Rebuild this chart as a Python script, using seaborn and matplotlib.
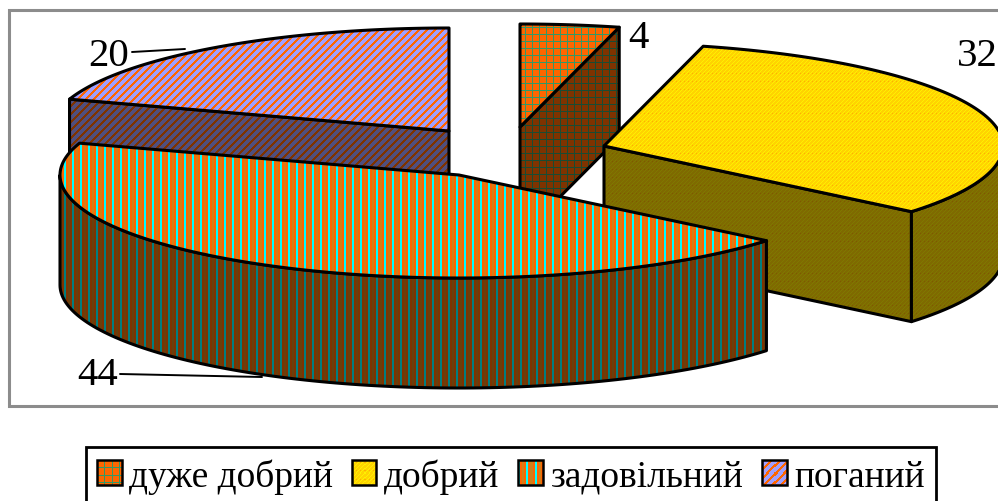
import numpy as np
import matplotlib
matplotlib.use('Agg')
import matplotlib.pyplot as plt
import seaborn as sns
from matplotlib.image import BboxImage
from matplotlib.legend_handler import HandlerBase
from matplotlib.patches import Patch, Polygon, Rectangle
from matplotlib.transforms import Bbox, TransformedBbox

# Data
categories = ['дуже добрий', 'добрий', 'задовільний', 'поганий']
values = [4, 32, 44, 20]

sns.set_style('white')
plt.rcParams['font.family'] = ['Liberation Serif', 'DejaVu Serif']
plt.rcParams['text.color'] = 'black'

# Pie geometry, in pixels
RX, RY, DEPTH = 399, 103, 110
apexes = [(520, 128), (604, 147), (459, 176), (449, 132)]
label_pos = [(638, 38), (977, 57), (98, 376), (109, 57)]
leaders = [None, None, ((120, 375), (262, 378)), ((132, 53), (185, 50))]
W, H = 998, 502

ORANGE, TEAL, CYAN, OLIVE = [np.array(c) for c in
                             sns.color_palette(['#FF6600', '#339966', '#00FFFF', '#D0801A'])]
YELLOW, LEMON, GOLD, LILAC = [np.array(c) for c in
                              sns.color_palette(['#FFD400', '#FFF000', '#FFB000', '#9F9FFF'])]


def texture(i, h=H, w=W):
    rows, cols = np.mgrid[0:h, 0:w]
    img = np.zeros((h, w, 3))
    if i == 0:  # grid
        img[:] = ORANGE
        img[(rows % 7 == 0) | (cols % 7 == 0)] = TEAL
    elif i == 1:  # dither
        img[:] = YELLOW
        img[(rows + cols) % 4 == 0] = LEMON
        img[(rows % 8 == 2) & (cols % 4 == 0)] = GOLD
    elif i == 2:  # vertical stripes
        img[:] = ORANGE
        img[cols % 8 < 2] = CYAN
        img[(cols % 8 >= 4) & (cols % 8 < 6)] = OLIVE
    else:  # diagonal stripes
        img[:] = LILAC
        img[(rows + cols) % 8 < 3] = ORANGE
    return img


def ell(a, apex, drop=0):
    a = np.radians(a)
    return np.column_stack([apex[0] + RX * np.sin(a), apex[1] - RY * np.cos(a) + drop])


fig = plt.figure(figsize=(W / 100, H / 100), dpi=100)
ax = fig.add_axes([0, 0, 1, 1])
ax.set_axis_off()
order = [3, 0, 1, 2]
z = [2]


def fill(points, tex):
    patch = Polygon(points, closed=True, fc='none', ec='black', lw=2.2, joinstyle='round', zorder=z[0] + 1)
    ax.add_patch(patch)
    im = ax.imshow(tex, extent=(0, W, H, 0), interpolation='nearest', aspect='auto', zorder=z[0])
    im.set_clip_path(patch)
    z[0] += 2


ax.add_patch(Rectangle((9.5, 11), W, 396, fc='white', ec='#8C8C8C', lw=2.2, zorder=1))

# Leader lines go under the slices
for lead in leaders:
    if lead:
        ax.plot([lead[0][0], lead[1][0]], [lead[0][1], lead[1][1]], color='black', lw=1.4, zorder=1.5)

# Start angles from the values, clockwise from the top
stops = np.cumsum([0] + values) / sum(values) * 360
for i in order:
    a0, a1 = stops[i], stops[i + 1]
    apex = apexes[i]
    tex = texture(i)
    dark = tex * 0.5
    # flat cut faces that look towards the viewer
    for a, seen in ((a0, np.sin(np.radians(a0)) < -1e-6), (a1, np.sin(np.radians(a1)) > 1e-6)):
        if seen:
            rim = ell(a, apex)[0]
            fill([apex, rim, rim + [0, DEPTH], (apex[0], apex[1] + DEPTH)], dark)
    # outer wall, front half of the ellipse only
    lo, hi = max(a0, 90), min(a1, 270)
    if lo < hi:
        arc = np.linspace(lo, hi, 120)
        fill(np.vstack([ell(arc, apex), ell(arc[::-1], apex, DEPTH)]), dark)
    arc = np.linspace(a0, a1, 200)
    fill(np.vstack([[apex], ell(arc, apex)]), tex)

for pos, v in zip(label_pos, values):
    ax.text(pos[0], pos[1], str(v), fontsize=29.5, ha='center', va='center', color='black', zorder=100)

ax.set_xlim(0, W)
ax.set_ylim(H, 0)


class SwatchHandler(HandlerBase):
    def __init__(self, idx):
        super().__init__()
        self.idx = idx

    def create_artists(self, legend, orig_handle, xdescent, ydescent, width, height, fontsize, trans):
        box = TransformedBbox(Bbox.from_bounds(-xdescent, -ydescent, width, height), trans)
        img = BboxImage(box, interpolation='nearest', zorder=1)
        img.set_data(texture(self.idx, 24, 24))
        frame = Rectangle((-xdescent, -ydescent), width, height, fc='none', ec='black', lw=1.8,
                          transform=trans)
        return [img, frame]


FS = 27
handles = [Patch(label=c) for c in categories]
handler_map = {h: SwatchHandler(i) for i, h in enumerate(handles)}
side = 17.5 / FS
leg = ax.legend(handles=handles, handler_map=handler_map, ncol=4, loc='upper left',
                bbox_to_anchor=(86 / W, 1 - 448 / H), bbox_transform=ax.transAxes,
                fontsize=FS, frameon=True, fancybox=False, edgecolor='black', framealpha=1,
                labelcolor='black', handlelength=side, handleheight=side, handletextpad=0.21,
                columnspacing=0.5, borderpad=0.3, borderaxespad=0, labelspacing=0)
leg.get_frame().set_linewidth(2)
leg.set_zorder(200)

fig.savefig('out.png', dpi=100)
